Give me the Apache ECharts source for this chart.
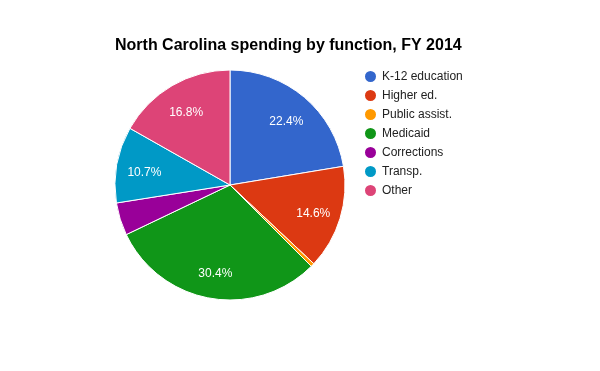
<!DOCTYPE html>
<html><head><meta charset="utf-8">
<script src="https://cdn.jsdelivr.net/npm/echarts@6/dist/echarts.min.js"></script>
<style>html,body{margin:0;padding:0;background:#fff}#c{width:600px;height:371px}</style>
</head><body><div id="c"></div>
<script>
const categories = ["K-12 education","Higher ed.","Public assist.","Medicaid","Corrections","Transp.","Other"];
const values = [22.4, 14.6, 0.5, 30.4, 4.6, 10.7, 16.8];
const colors = ["#3366cc","#dc3912","#ff9900","#109618","#990099","#0099c6","#dd4477"];
const FONT = "Arial, 'Liberation Sans', sans-serif";
const total = values.reduce((a,b)=>a+b,0);
const data = categories.map((n,i)=>({name:n, value:values[i], itemStyle:{color:colors[i]}}));
const chart = echarts.init(document.getElementById('c'), null, {renderer:'canvas'});
chart.setOption({
  animation:false,
  title:{text:"North Carolina spending by function, FY 2014", left:115, top:38, padding:0,
    textStyle:{fontFamily:FONT, fontSize:16, fontWeight:'bold', color:'#000'}},
  legend:{orient:'vertical', left:358, top:64, itemWidth:13, itemHeight:13, itemGap:4,
    icon:'circle', data:categories,
    textStyle:{fontFamily:FONT, fontSize:12, color:'#222'}},
  series:[
    {type:'pie', center:[230,185], radius:[0,115], startAngle:90, clockwise:true,
     data:data, label:{show:false}, labelLine:{show:false},
     itemStyle:{borderColor:'#fff', borderWidth:1}, emphasis:{disabled:true}},
    {type:'pie', center:[230,185], radius:[53,115], startAngle:90, clockwise:true, silent:true,
     data:categories.map((n,i)=>({name:n, value:values[i], itemStyle:{color:'rgba(0,0,0,0)'}})),
     itemStyle:{borderWidth:0},
     label:{show:true, position:'inside', color:'#fff', fontFamily:FONT, fontSize:12, offset:[0,3],
       formatter:p=> (p.value/total*100 >= 7 ? (p.value/total*100).toFixed(1)+'%' : '')},
     labelLine:{show:false}, emphasis:{disabled:true}, tooltip:{show:false}}
  ]
});
</script></body></html>
